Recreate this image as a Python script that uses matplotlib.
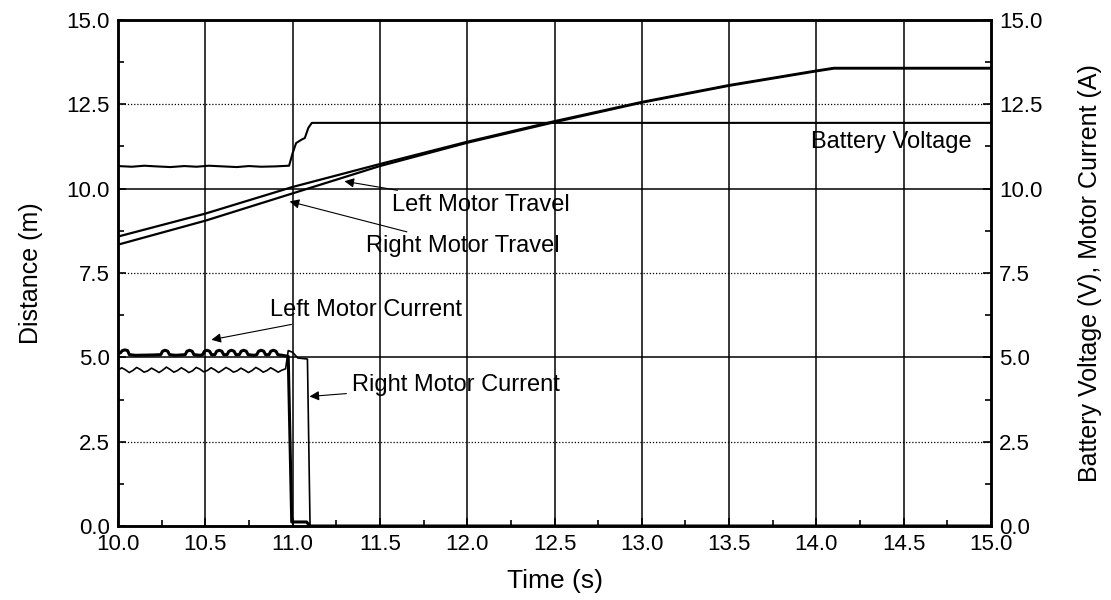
import numpy as np
import matplotlib
matplotlib.use('Agg')
from matplotlib import pyplot as plt
from matplotlib.ticker import MultipleLocator, FormatStrFormatter

plt.rcParams['font.family'] = ['Liberation Sans', 'DejaVu Sans']

# battery voltage (V)
volt_t = [10.0, 10.08, 10.15, 10.22, 10.3, 10.38, 10.45, 10.52, 10.6, 10.68, 10.75, 10.82, 10.9, 10.98,
          11.0, 11.02, 11.05, 11.07, 11.09, 11.11, 15.0]
volt_v = [10.67, 10.65, 10.68, 10.66, 10.64, 10.67, 10.65, 10.68, 10.66, 10.64, 10.67, 10.65, 10.66, 10.68,
          11.05, 11.35, 11.45, 11.5, 11.8, 11.95, 11.95]

# wheel travel (m)
travel_t = [10.0, 10.5, 11.0, 11.5, 12.0, 12.5, 13.0, 13.5, 14.0, 14.1, 15.0]
left_travel = [8.58, 9.26, 10.05, 10.73, 11.39, 12.0, 12.57, 13.07, 13.5, 13.58, 13.58]
right_travel = [8.34, 9.05, 9.86, 10.67, 11.36, 11.97, 12.55, 13.05, 13.48, 13.56, 13.56]

# motor currents (A)
left_cur_t = [10.0, 10.015, 10.025, 10.04, 10.055, 10.065, 10.1, 10.2, 10.245, 10.255, 10.27, 10.285, 10.295,
              10.33, 10.385, 10.395, 10.41, 10.425, 10.435, 10.47, 10.485, 10.495, 10.51, 10.525, 10.535,
              10.555, 10.565, 10.58, 10.595, 10.605, 10.625, 10.635, 10.65, 10.665, 10.675, 10.695, 10.705,
              10.72, 10.735, 10.745, 10.78, 10.795, 10.805, 10.82, 10.835, 10.845, 10.865, 10.875, 10.89,
              10.905, 10.915, 10.94, 10.975, 10.995, 11.0, 11.08, 11.1, 15.0]
left_cur = [5.1, 5.14, 5.2, 5.22, 5.2, 5.08, 5.06, 5.07, 5.08, 5.18, 5.21, 5.18, 5.08,
            5.06, 5.08, 5.18, 5.21, 5.18, 5.08, 5.06, 5.08, 5.18, 5.21, 5.18, 5.08,
            5.08, 5.18, 5.21, 5.18, 5.08, 5.08, 5.18, 5.21, 5.18, 5.08, 5.08, 5.18,
            5.21, 5.18, 5.08, 5.06, 5.08, 5.18, 5.21, 5.18, 5.08, 5.08, 5.18, 5.21,
            5.18, 5.08, 5.06, 5.03, 0.12, 0.12, 0.12, 0.0, 0.0]

right_ripple = [4.62, 4.69, 4.63, 4.55, 4.61, 4.70, 4.64, 4.56, 4.60, 4.68, 4.62, 4.55, 4.62, 4.71, 4.64, 4.56,
                4.61, 4.69, 4.63, 4.55, 4.60, 4.70, 4.65, 4.57, 4.61, 4.69, 4.63, 4.55, 4.62, 4.70, 4.64, 4.56,
                4.60, 4.68, 4.62, 4.55, 4.61, 4.70, 4.64, 4.56, 4.61, 4.69, 4.63, 4.56, 4.62, 4.66]
right_tail_t = [10.975, 11.0, 11.03, 11.085, 11.1, 15.0]
right_tail = [5.2, 5.15, 4.98, 4.95, 0.0, 0.0]

fig = plt.figure(figsize=(11.11, 6.0), dpi=100)
ax = fig.add_axes([0.1062, 0.1233, 0.7858, 0.8434])
ax2 = ax.twinx()

ax.set_xlim(10.0, 15.0)
ax.set_ylim(0.0, 15.0)
ax2.set_ylim(0.0, 15.0)

# grid: solid verticals every 0.5 s, solid at 5 and 10, dotted at the half steps
for x in np.arange(10.5, 15.0, 0.5):
    ax.axvline(x, color='black', lw=1.1, zorder=1)
for y in [5.0, 10.0]:
    ax.axhline(y, color='black', lw=1.1, zorder=1)
for y in [2.5, 7.5, 12.5]:
    ax.axhline(y, color='black', lw=0.9, ls=(0, (1, 1.5)), zorder=1)

ax.plot(volt_t, volt_v, color='black', lw=1.5, zorder=3)
ax.plot(travel_t, left_travel, color='black', lw=1.6, zorder=3)
ax.plot(travel_t, right_travel, color='black', lw=1.6, zorder=3)
ax.plot(left_cur_t, left_cur, color='black', lw=2.2, zorder=3)
ripple_t = np.linspace(10.0, 10.96, len(right_ripple))
ax.plot(list(ripple_t) + right_tail_t, right_ripple + right_tail, color='black', lw=1.2, zorder=3)

arrow = dict(arrowstyle='-|>', color='black', lw=0.8, mutation_scale=14, shrinkA=2, shrinkB=0)
ax.annotate('Left Motor Travel', xy=(11.297, 10.22), xytext=(11.57, 9.53),
            fontsize=17, ha='left', va='center', arrowprops=arrow, zorder=4)
ax.annotate('Right Motor Travel', xy=(10.983, 9.62), xytext=(11.42, 8.29),
            fontsize=17, ha='left', va='center', arrowprops=arrow, zorder=4)
ax.annotate('Left Motor Current', xy=(10.535, 5.52), xytext=(10.87, 6.4),
            fontsize=17, ha='left', va='center', arrowprops=arrow, zorder=4)
ax.annotate('Right Motor Current', xy=(11.097, 3.84), xytext=(11.34, 4.18),
            fontsize=17, ha='left', va='center', arrowprops=arrow, zorder=4)
ax.text(14.89, 11.37, 'Battery Voltage', fontsize=17, ha='right', va='center', zorder=4)

ax.xaxis.set_major_locator(MultipleLocator(0.5))
ax.xaxis.set_minor_locator(MultipleLocator(0.25))
ax.xaxis.set_major_formatter(FormatStrFormatter('%.1f'))
for a in (ax, ax2):
    a.yaxis.set_major_locator(MultipleLocator(2.5))
    a.yaxis.set_minor_locator(MultipleLocator(1.25))
    a.yaxis.set_major_formatter(FormatStrFormatter('%.1f'))
    a.tick_params(which='both', direction='in', labelsize=16, width=1.2, pad=6)
    a.tick_params(which='major', length=6)
    a.tick_params(which='minor', length=4)
    for s in a.spines.values():
        s.set_linewidth(1.8)
ax.tick_params(axis='y', right=False)

ax.set_xlabel('Time (s)', fontsize=19)
ax.set_ylabel('Distance (m)', fontsize=18)
ax2.set_ylabel('Battery Voltage (V), Motor Current (A)', fontsize=18)
ax.xaxis.set_label_coords(0.5, -0.085)
ax.yaxis.set_label_coords(-0.086, 0.5)
ax2.yaxis.set_label_coords(1.1, 0.5)

fig.savefig('out.png', dpi=100)
